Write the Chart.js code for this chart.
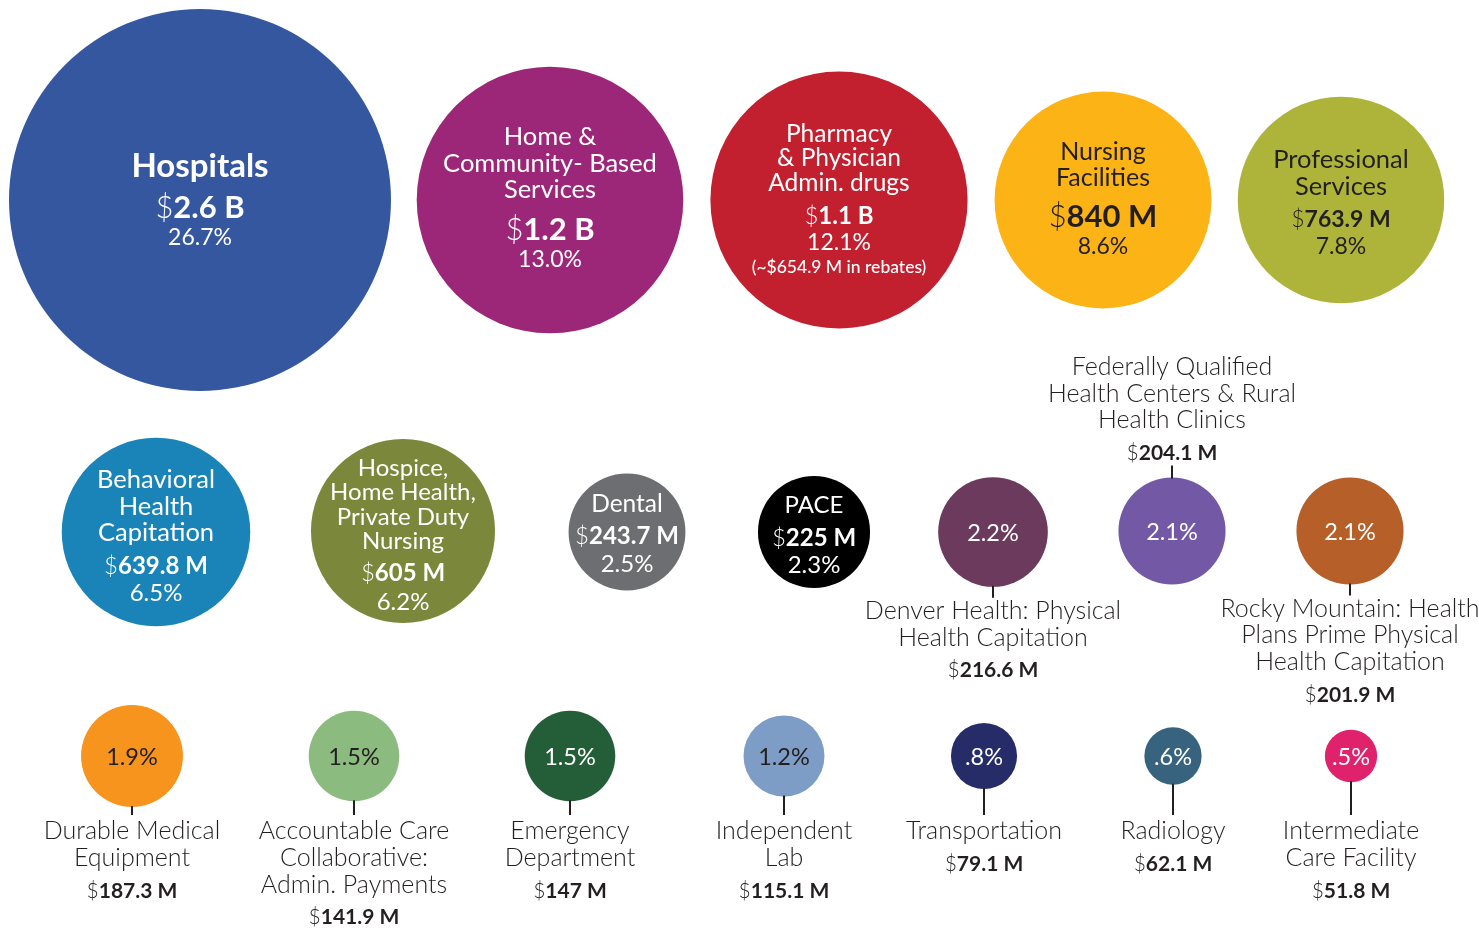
<!DOCTYPE html>
<html>
<head>
<meta charset="utf-8">
<script src="https://cdn.jsdelivr.net/npm/chart.js@4/dist/chart.umd.min.js"></script>
<style>
  html, body { margin: 0; padding: 0; background: #fff; }
  #wrap { width: 1479px; height: 929px; }
</style>
</head>
<body>
<div id="wrap"><canvas id="bubbleChart" width="1479" height="929"></canvas></div>
<script>
// spending categories (line breaks as in the graphic)
const categories = [
    'Hospitals',
    'Home &\nCommunity- Based\nServices',
    'Pharmacy\n& Physician\nAdmin. drugs',
    'Nursing\nFacilities',
    'Professional\nServices',
    'Behavioral\nHealth\nCapitation',
    'Hospice,\nHome Health,\nPrivate Duty\nNursing',
    'Dental',
    'PACE',
    'Denver Health: Physical\nHealth Capitation',
    'Federally Qualified\nHealth Centers & Rural\nHealth Clinics',
    'Rocky Mountain: Health\nPlans Prime Physical\nHealth Capitation',
    'Durable Medical\nEquipment',
    'Accountable Care\nCollaborative:\nAdmin. Payments',
    'Emergency\nDepartment',
    'Independent\nLab',
    'Transportation',
    'Radiology',
    'Intermediate\nCare Facility'
];
const amountLabels = ['2.6 B', '1.2 B', '1.1 B', '840 M', '763.9 M', '639.8 M', '605 M', '243.7 M', '225 M',
    '216.6 M', '204.1 M', '201.9 M', '187.3 M', '141.9 M', '147 M', '115.1 M', '79.1 M', '62.1 M', '51.8 M'];
const shares = [26.7, 13.0, 12.1, 8.6, 7.8, 6.5, 6.2, 2.5, 2.3, 2.2, 2.1, 2.1, 1.9, 1.5, 1.5, 1.2, 0.8, 0.6, 0.5];
const shareLabels = ['26.7%', '13.0%', '12.1%', '8.6%', '7.8%', '6.5%', '6.2%', '2.5%', '2.3%', '2.2%', '2.1%', '2.1%',
    '1.9%', '1.5%', '1.5%', '1.2%', '.8%', '.6%', '.5%'];
const notes = { 2: '(~$654.9 M in rebates)' };

const colors = ['#3557A0', '#9C2779', '#C3202F', '#FCB316', '#AEB43A', '#1A84B8', '#7B873A', '#6D6E71', '#000000',
    '#6C3A5C', '#7359A5', '#B65F28', '#F7941E', '#8CBB80', '#235E38', '#7E9DC6', '#262C68', '#37637E', '#E0226C'];
const darkText = [3, 4, 12, 13, 15];

// where each bubble sits on the page (grid of three rows)
const posX = [200, 550, 839, 1103, 1341, 156, 403, 627, 814, 993, 1172, 1350, 132, 354, 570, 784, 984, 1173, 1351];
const posY = [200, 200, 200, 200, 200, 532, 531, 532, 532, 532, 531, 531, 756, 756, 756, 756, 756, 756, 756];
// 'in' = everything inside, 'below' / 'above' = name and amount outside
const place = ['in', 'in', 'in', 'in', 'in', 'in', 'in', 'in', 'in', 'below', 'above', 'below',
    'below', 'below', 'below', 'below', 'below', 'below', 'below'];

// text layout for labels inside the bubble: name size, first name line y, line step, amount size/y, pct size/y
const inside = {
    0: { ns: 33, ny: 166, step: 0, as: 31, ay: 208, ps: 23, py: 238, bold: true },
    1: { ns: 25.5, ny: 137, step: 26.5, as: 31, ay: 230, ps: 23, py: 260 },
    2: { ns: 24.5, ny: 134, step: 24.5, as: 24, ay: 216, ps: 23, py: 243, noteY: 267 },
    3: { ns: 25, ny: 152, step: 26, as: 31, ay: 217, ps: 23, py: 247 },
    4: { ns: 25.5, ny: 160, step: 27, as: 23, ay: 220, ps: 23, py: 247 },
    5: { ns: 25.5, ny: 480, step: 26.5, as: 24, ay: 566, ps: 24, py: 593 },
    6: { ns: 24, ny: 468, step: 24.5, as: 24, ay: 573, ps: 24, py: 602 },
    7: { ns: 24.5, ny: 504, step: 0, as: 24, ay: 536, ps: 24, py: 564 },
    8: { ns: 24, ny: 505, step: 0, as: 24, ay: 538, ps: 24, py: 565 }
};

const maxShare = shares[0];
const maxRadius = 191;
const points = shares.map((s, i) => ({ x: posX[i], y: posY[i], r: maxRadius * Math.sqrt(s / maxShare) }));

const FONT = 'Lato, "Open Sans", sans-serif';

function drawRich(ctx, parts, cx, y) {
    let total = 0;
    parts.forEach(p => { ctx.font = p.font; total += ctx.measureText(p.text).width; });
    let x = cx - total / 2;
    parts.forEach(p => {
        ctx.font = p.font;
        ctx.fillText(p.text, x, y);
        x += ctx.measureText(p.text).width;
    });
}

function amountParts(i, size) {
    return [
        { text: '$', font: `300 ${size}px ${FONT}` },
        { text: amountLabels[i], font: `bold ${size}px ${FONT}` }
    ];
}

const labelPlugin = {
    id: 'bubbleLabels',
    afterDatasetsDraw(chart) {
        const ctx = chart.ctx;
        const meta = chart.getDatasetMeta(0);
        ctx.save();
        ctx.textBaseline = 'middle';
        ctx.textAlign = 'left';
        meta.data.forEach((el, i) => {
            const cx = el.x, cy = el.y, r = el.options.radius;
            const fill = darkText.includes(i) ? '#231F20' : '#ffffff';
            const lines = categories[i].split('\n');
            ctx.fillStyle = fill;
            if (place[i] === 'in') {
                const t = inside[i];
                const dy = cy - posY[i];
                lines.forEach((ln, k) => {
                    drawRich(ctx, [{ text: ln, font: `${t.bold ? 'bold' : '400'} ${t.ns}px ${FONT}` }], cx, t.ny + dy + k * t.step);
                });
                drawRich(ctx, amountParts(i, t.as), cx, t.ay + dy);
                drawRich(ctx, [{ text: shareLabels[i], font: `400 ${t.ps}px ${FONT}` }], cx, t.py + dy);
                if (notes[i]) {
                    drawRich(ctx, [{ text: notes[i], font: `500 17.5px ${FONT}` }], cx, t.noteY + dy);
                }
                return;
            }
            // share inside, name and amount outside with a short leader line
            drawRich(ctx, [{ text: shareLabels[i], font: `400 23.5px ${FONT}` }], cx, cy + 1);
            const row3 = posY[i] > 700;
            ctx.strokeStyle = '#231F20';
            ctx.lineWidth = 2;
            ctx.fillStyle = '#231F20';
            ctx.beginPath();
            if (place[i] === 'below') {
                const end = row3 ? 815 : cy + r + 11;
                ctx.moveTo(cx, cy + r - 1);
                ctx.lineTo(cx, end);
                ctx.stroke();
                let y = end + (row3 ? 16 : 13);
                lines.forEach((ln, k) => {
                    drawRich(ctx, [{ text: ln, font: `300 25px ${FONT}` }], cx, y + k * 26.8);
                });
                drawRich(ctx, amountParts(i, 21), cx, y + (lines.length - 1) * 26.8 + 33);
            } else {
                const top = cy - r - 12;
                ctx.moveTo(cx, cy - r + 1);
                ctx.lineTo(cx, top);
                ctx.stroke();
                const amtY = top - 12;
                drawRich(ctx, amountParts(i, 21), cx, amtY);
                lines.forEach((ln, k) => {
                    drawRich(ctx, [{ text: ln, font: `300 25px ${FONT}` }], cx, amtY - 33 - (lines.length - 1 - k) * 26.5);
                });
            }
        });
        ctx.restore();
    }
};

new Chart(document.getElementById('bubbleChart'), {
    type: 'bubble',
    data: {
        labels: categories,
        datasets: [{
            data: points,
            backgroundColor: colors,
            borderWidth: 0,
            hoverRadius: 0,
            clip: false
        }]
    },
    options: {
        responsive: false,
        animation: false,
        events: [],
        layout: { padding: 0, autoPadding: false },
        plugins: {
            legend: { display: false },
            tooltip: { enabled: false }
        },
        scales: {
            x: { type: 'linear', min: 0, max: 1479, display: false },
            y: { type: 'linear', min: 0, max: 929, reverse: true, display: false }
        }
    },
    plugins: [labelPlugin]
});
</script>
</body>
</html>
